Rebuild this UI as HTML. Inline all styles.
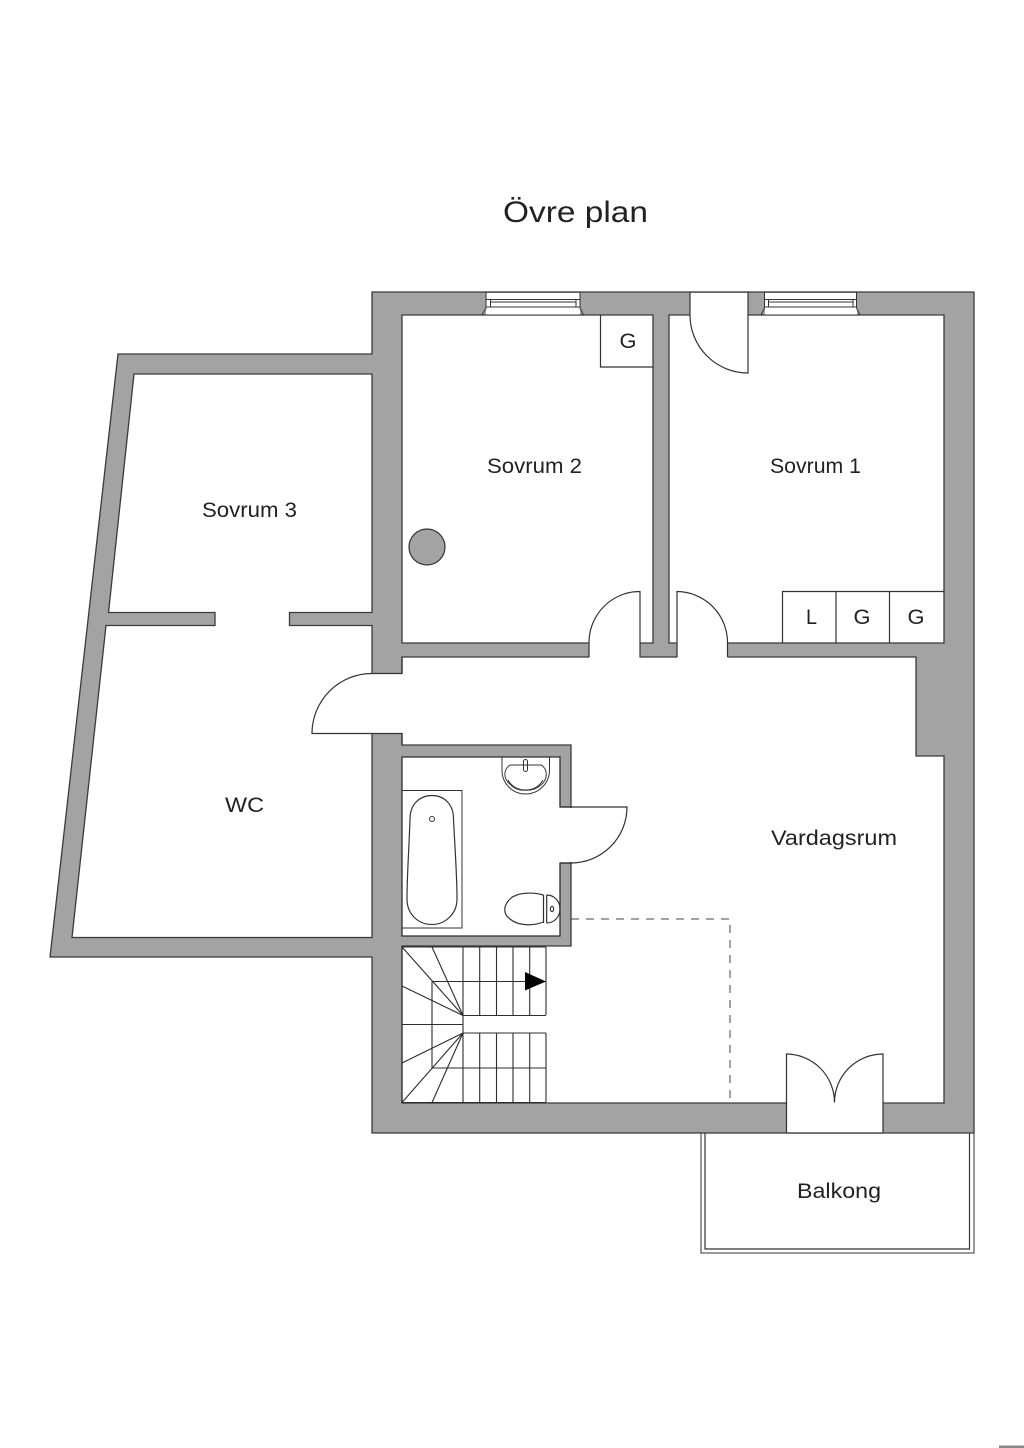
<!DOCTYPE html>
<html><head><meta charset="utf-8"><style>
html,body{margin:0;padding:0;background:#fff;width:1024px;height:1448px;overflow:hidden}
svg{display:block}
text{font-family:"Liberation Sans",sans-serif;fill:#222}
.l{fill:none;stroke:#333;stroke-width:1.2}
.t{fill:none;stroke:#333;stroke-width:1}
</style></head><body>
<svg width="1024" height="1448" viewBox="0 0 1024 1448" xmlns="http://www.w3.org/2000/svg">
<rect width="1024" height="1448" fill="#fff"/>
<rect x="999" y="1445.500" width="25" height="2.500" fill="#888"/>
<!-- balcony -->
<path d="M701 1133V1253H974V1133" class="t"/>
<path d="M705 1133V1249H969.500V1133" class="l"/>
<!-- walls and rooms -->
<path fill-rule="evenodd" fill="#a3a3a3" stroke="#3a3a3a" stroke-width="1.300" d="M372 292H974V1133H372V957H50L118 354H372Z
M402 315H653V643H402Z
M669 315H944V643H669Z
M134 374H372V612.500H289.500V625.500H372V937.500H72L106 625.500H215V612.500H108.500Z
M402 657H916V756H944V1103H402V946H571V745H402Z"/>
<!-- door openings -->
<g fill="#fff" stroke="none">
<rect x="589.500" y="642" width="50" height="16"/>
<rect x="677.500" y="642" width="50" height="16"/>
<rect x="690" y="293" width="58" height="23"/>
<rect x="370" y="674" width="33" height="59"/>
<rect x="786.500" y="1102" width="96" height="31"/>
<rect x="486" y="293" width="94" height="22.500"/>
<rect x="765" y="293" width="92" height="22.500"/>
</g>
<path class="l" d="M372 733.500H402V745.500"/>
<path class="l" d="M372 673.500H402V657"/>
<!-- bathroom -->
<path fill="#fff" stroke="#2d2d2d" stroke-width="1.300" d="M402 757H560V807H571V863H560V936H402Z"/>
<path fill="#fff" stroke="none" d="M558 808H573V862H558Z"/>
<path class="l" d="M560 807H627A56 56 0 0 1 571 863H560"/>
<path class="t" d="M402 790.500H462V928H402"/>
<path class="l" d="M410 819C410 804 420 795.500 432 795.500C444 795.500 453.500 804 453.500 819C455 850 457 875 457 899C457 914 445 924.500 432 924.500C418 924.500 407 914 407 899C407 875 409 850 410 819Z"/>
<circle cx="432" cy="819" r="2.500" class="t"/>
<path class="t" d="M502 757V770C502 784 513 794 525.500 794C538 794 549.500 784 549.500 770V757"/>
<path class="t" d="M510 765H523M528 765H541.500C548 770 548 779 541 785C534 792 517 792 511 785C503 779 503 770 510 765Z"/>
<path class="t" d="M508 780C512 787 518 790 525.500 790C533 790 539 787 543 780"/>
<rect x="523.500" y="759.500" width="4" height="12" rx="2" class="t" fill="#fff"/>
<path class="l" d="M543.500 895C533 892 517 892 510 899C503 906 503 914 510 919C518 926 533 926 543.500 922"/>
<path d="M543.500 895V923M546.700 895V923" class="l"/>
<path class="l" d="M546.700 895C554 895 560 901 560 909C560 917 554 923 546.700 923"/>
<ellipse cx="552" cy="909" rx="1.600" ry="2.600" class="l"/>
<!-- stairs -->
<g stroke="#2d2d2d" stroke-width="1.100" fill="none">
<path d="M402 947H546M402 947V1102.500H546"/>
<path d="M463 947V1033M463 1033V1102M479.700 947V1015M496.500 947V1015M513 947V1015M529.700 947V1015M546 947V1015M479.700 1033V1102M496.500 1033V1102M513 1033V1102M529.700 1033V1102M546 1033V1102"/>
<path d="M463 1015.500H546M463 1033H546M432 981.500H546M432 1068H546M432 981.500V1068"/>
<path d="M402 947L463 1015.500M432 947L463 1015.500M402 986L463 1015.500M402 1024.500H463M402 1063L463 1033M402 1102.500L463 1033M432 1102.500L463 1033"/>
</g>
<path d="M525 972L546 981.500L525 990.500Z" fill="#000"/>
<!-- dashed opening -->
<path d="M571 919H730V1103" fill="none" stroke="#444" stroke-width="1" stroke-dasharray="8 7"/>
<!-- column -->
<circle cx="427" cy="547" r="18" fill="#a3a3a3" stroke="#333" stroke-width="1.200"/>
<!-- windows -->
<g fill="none" stroke="#333" stroke-width="1">
<path d="M486 292V308L482 315H583.500L580 308V292"/>
<path d="M486 299.500H490.500V307H576V299.500H580M490.500 299.500H576M490.500 302H576M486 307H490.500M576 307H580"/>
<path d="M764.500 292V308L761 315H860L856.500 308V292"/>
<path d="M764.500 299.500H768.500V307H853V299.500H856.500M768.500 299.500H853M768.500 302H853M764.500 307H768.500M853 307H856.500"/>
<path d="M486 292H580M764.500 292H856.500"/>
</g>
<!-- doors -->
<path class="l" d="M690 292V315A58 58 0 0 0 748 373V292"/>
<path class="l" d="M589 657V643A51 51 0 0 1 640 591.500V657"/>
<path class="l" d="M677 657V591.500A51 51 0 0 1 727.500 643V657"/>
<path class="l" d="M372 673.500A60 60 0 0 0 312 733.500H372"/>
<path class="l" d="M786.500 1133V1054A48.500 48.500 0 0 1 834.500 1102.500A48.500 48.500 0 0 1 883 1054V1133"/>
<path class="l" d="M786.500 1133H883"/>
<!-- closets -->
<path class="l" d="M653 367H600.500V315M782.500 643V591.500H944M836 591.500V643M889.500 591.500V643"/>
<!-- labels -->
<text x="503" y="222" font-size="30" textLength="145" lengthAdjust="spacingAndGlyphs">Övre plan</text>
<text x="487" y="473" font-size="21" textLength="95" lengthAdjust="spacingAndGlyphs">Sovrum 2</text>
<text x="770" y="473" font-size="21" textLength="91" lengthAdjust="spacingAndGlyphs">Sovrum 1</text>
<text x="202" y="517" font-size="21" textLength="95" lengthAdjust="spacingAndGlyphs">Sovrum 3</text>
<text x="225" y="812" font-size="21" textLength="39" lengthAdjust="spacingAndGlyphs">WC</text>
<text x="771" y="845" font-size="21" textLength="126" lengthAdjust="spacingAndGlyphs">Vardagsrum</text>
<text x="797" y="1198" font-size="21" textLength="84" lengthAdjust="spacingAndGlyphs">Balkong</text>
<text x="619.500" y="348" font-size="21" textLength="17" lengthAdjust="spacingAndGlyphs">G</text>
<text x="806" y="624" font-size="21" textLength="11" lengthAdjust="spacingAndGlyphs">L</text>
<text x="853.500" y="624" font-size="21" textLength="17" lengthAdjust="spacingAndGlyphs">G</text>
<text x="907.500" y="624" font-size="21" textLength="17" lengthAdjust="spacingAndGlyphs">G</text>
</svg>
</body></html>
